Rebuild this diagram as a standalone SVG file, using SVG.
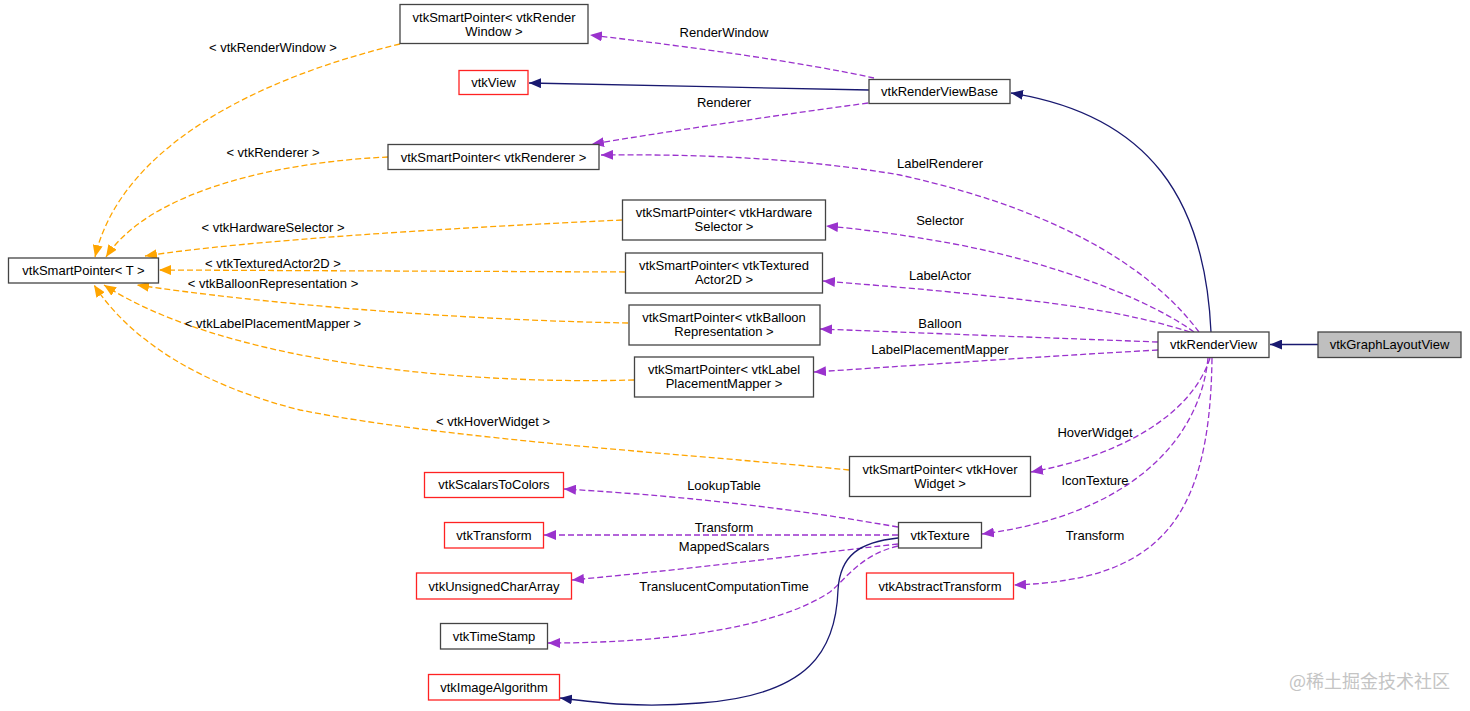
<svg xmlns="http://www.w3.org/2000/svg" width="1470" height="711" viewBox="0 0 1470 711">
<style>
text{font-family:"Liberation Sans",Arial,sans-serif;font-size:13px;fill:#000;text-anchor:middle}
.n rect{fill:#fff;stroke:#444;stroke-width:1.3}
.n.r rect{stroke:#f22}
.n.g rect{fill:#bfbfbf}
.e path{fill:none;stroke-width:1.3}
.u{stroke:#9a32cd;stroke-dasharray:6,3}
.t{stroke:#ffa500;stroke-dasharray:6,3}
.i{stroke:#191970}
.wm{font-family:"Noto Sans CJK SC","Noto Sans",sans-serif;font-size:18px;fill:#c4c4c4;text-anchor:start}
</style>
<defs>
<marker id="mu" viewBox="0 0 12 10" refX="12" refY="5" markerWidth="12" markerHeight="10" markerUnits="userSpaceOnUse" orient="auto"><path d="M0,0L12,5L0,10z" fill="#9a32cd"/></marker>
<marker id="mt" viewBox="0 0 12 10" refX="12" refY="5" markerWidth="12" markerHeight="10" markerUnits="userSpaceOnUse" orient="auto"><path d="M0,0L12,5L0,10z" fill="#ffa500"/></marker>
<marker id="mi" viewBox="0 0 12 10" refX="12" refY="5" markerWidth="12" markerHeight="10" markerUnits="userSpaceOnUse" orient="auto"><path d="M0,0L12,5L0,10z" fill="#191970"/></marker>
</defs>
<rect width="1470" height="711" fill="#fff"/>
<g id="edges" class="e">
<path class="u" marker-end="url(#mu)" d="M874,78 C800,62 700,48 590,35"/>
<path class="u" marker-end="url(#mu)" d="M868,103 C780,115 690,128 592,144"/>
<path class="u" marker-end="url(#mu)" d="M1199,332 C1160,280 1080,215 900,175 C800,158 700,154 601,155"/>
<path class="u" marker-end="url(#mu)" d="M1194,332 C1150,300 1060,265 960,245 C900,234 860,229 826,226"/>
<path class="u" marker-end="url(#mu)" d="M1190,332 C1120,310 1050,302 950,292 C900,287 860,284 823,281"/>
<path class="u" marker-end="url(#mu)" d="M1158,342 C1050,338 950,334 820,329"/>
<path class="u" marker-end="url(#mu)" d="M1158,350 C1050,356 950,363 814,372"/>
<path class="u" marker-end="url(#mu)" d="M1210,358 C1190,420 1110,458 1031,472"/>
<path class="u" marker-end="url(#mu)" d="M1208,358 C1200,440 1130,515 982,534"/>
<path class="u" marker-end="url(#mu)" d="M1212,358 C1210,520 1160,580 1014,585"/>
<path class="u" marker-end="url(#mu)" d="M898,527 C800,510 700,497 564,489"/>
<path class="u" marker-end="url(#mu)" d="M898,535 L544,535"/>
<path class="u" marker-end="url(#mu)" d="M898,544 C800,555 700,568 572,580"/>
<path class="u" marker-end="url(#mu)" d="M898,546 C860,555 845,580 830,592 C780,625 680,643 548,643"/>
<path class="i" marker-end="url(#mi)" d="M898,538 C860,542 840,555 838,590 C836,650 810,695 700,703 C640,708 600,703 560,698"/>
<path class="i" marker-end="url(#mi)" d="M869,90 C750,88 650,85 529,83"/>
<path class="i" marker-end="url(#mi)" d="M1211,332 C1205,200 1150,115 1011,93"/>
<path class="i" marker-end="url(#mi)" d="M1318,344.5 L1270,344.5"/>
<path class="t" marker-end="url(#mt)" d="M400,44 C250,80 120,150 95,257"/>
<path class="t" marker-end="url(#mt)" d="M388,157 C280,162 150,190 106,257"/>
<path class="t" marker-end="url(#mt)" d="M622,220 C450,228 250,240 145,256"/>
<path class="t" marker-end="url(#mt)" d="M625,272 L159,270"/>
<path class="t" marker-end="url(#mt)" d="M628,323 C450,320 250,302 137,285"/>
<path class="t" marker-end="url(#mt)" d="M634,380 C450,385 220,360 104,285"/>
<path class="t" marker-end="url(#mt)" d="M849,470 C700,455 450,440 300,410 C200,385 130,340 94,285"/>
</g>
<g id="edge-labels">
<text x="724" y="36.5">RenderWindow</text>
<text x="724" y="106.5">Renderer</text>
<text x="273" y="51.5">&lt; vtkRenderWindow &gt;</text>
<text x="273" y="156.5">&lt; vtkRenderer &gt;</text>
<text x="940" y="167.5">LabelRenderer</text>
<text x="273" y="231.5">&lt; vtkHardwareSelector &gt;</text>
<text x="940" y="225">Selector</text>
<text x="273" y="267.5">&lt; vtkTexturedActor2D &gt;</text>
<text x="940" y="280">LabelActor</text>
<text x="273" y="288">&lt; vtkBalloonRepresentation &gt;</text>
<text x="940" y="327.5">Balloon</text>
<text x="273" y="328">&lt; vtkLabelPlacementMapper &gt;</text>
<text x="940" y="353.5">LabelPlacementMapper</text>
<text x="493" y="426">&lt; vtkHoverWidget &gt;</text>
<text x="1095" y="436.5">HoverWidget</text>
<text x="724" y="489.5">LookupTable</text>
<text x="1095" y="484.5">IconTexture</text>
<text x="724" y="531.5">Transform</text>
<text x="724" y="551">MappedScalars</text>
<text x="1095" y="539.5">Transform</text>
<text x="724" y="591">TranslucentComputationTime</text>
</g>
<g id="spRenderWindow" class="n"><rect x="400" y="4.5" width="188" height="39"/><text x="494" y="21.5">vtkSmartPointer&lt; vtkRender</text><text x="494" y="36">Window &gt;</text></g>
<g id="vtkView" class="n r"><rect x="459" y="70.5" width="69" height="24"/><text x="493.5" y="87">vtkView</text></g>
<g id="vtkRenderViewBase" class="n"><rect x="869" y="79.5" width="141" height="24"/><text x="939.5" y="96">vtkRenderViewBase</text></g>
<g id="spRenderer" class="n"><rect x="388" y="144.5" width="211" height="25"/><text x="493.5" y="161.5">vtkSmartPointer&lt; vtkRenderer &gt;</text></g>
<g id="spT" class="n"><rect x="8.5" y="258" width="150" height="25"/><text x="83.5" y="275">vtkSmartPointer&lt; T &gt;</text></g>
<g id="spHardwareSelector" class="n"><rect x="622.5" y="200" width="203" height="40"/><text x="724" y="216.5">vtkSmartPointer&lt; vtkHardware</text><text x="724" y="231">Selector &gt;</text></g>
<g id="spTexturedActor2D" class="n"><rect x="625.5" y="253" width="197" height="40"/><text x="724" y="269.5">vtkSmartPointer&lt; vtkTextured</text><text x="724" y="284">Actor2D &gt;</text></g>
<g id="spBalloon" class="n"><rect x="629" y="305" width="191" height="40"/><text x="724" y="321.5">vtkSmartPointer&lt; vtkBalloon</text><text x="724" y="336">Representation &gt;</text></g>
<g id="spLabelPlacementMapper" class="n"><rect x="634.5" y="357" width="179" height="40"/><text x="724" y="373.5">vtkSmartPointer&lt; vtkLabel</text><text x="724" y="388">PlacementMapper &gt;</text></g>
<g id="vtkRenderView" class="n"><rect x="1158" y="332" width="111" height="25.5"/><text x="1213.5" y="349">vtkRenderView</text></g>
<g id="vtkGraphLayoutView" class="n g"><rect x="1318" y="332" width="143" height="25.5"/><text x="1389.5" y="349">vtkGraphLayoutView</text></g>
<g id="spHoverWidget" class="n"><rect x="849.5" y="456.5" width="181" height="40"/><text x="940" y="473.5">vtkSmartPointer&lt; vtkHover</text><text x="940" y="488">Widget &gt;</text></g>
<g id="vtkScalarsToColors" class="n r"><rect x="424.5" y="472.5" width="139" height="25"/><text x="494" y="489">vtkScalarsToColors</text></g>
<g id="vtkTransform" class="n r"><rect x="444.5" y="522.5" width="99" height="25.5"/><text x="494" y="540">vtkTransform</text></g>
<g id="vtkTexture" class="n"><rect x="898.5" y="522.5" width="83" height="25.5"/><text x="940" y="540">vtkTexture</text></g>
<g id="vtkUnsignedCharArray" class="n r"><rect x="416.5" y="573" width="155" height="26"/><text x="494" y="590.5">vtkUnsignedCharArray</text></g>
<g id="vtkAbstractTransform" class="n r"><rect x="866.5" y="573" width="147" height="26"/><text x="940" y="590.5">vtkAbstractTransform</text></g>
<g id="vtkTimeStamp" class="n"><rect x="440.5" y="623.5" width="107" height="25.5"/><text x="494" y="641">vtkTimeStamp</text></g>
<g id="vtkImageAlgorithm" class="n r"><rect x="428.5" y="674.5" width="131" height="25.5"/><text x="494" y="692">vtkImageAlgorithm</text></g>
<text class="wm" x="1289" y="688">@稀土掘金技术社区</text>
</svg>
